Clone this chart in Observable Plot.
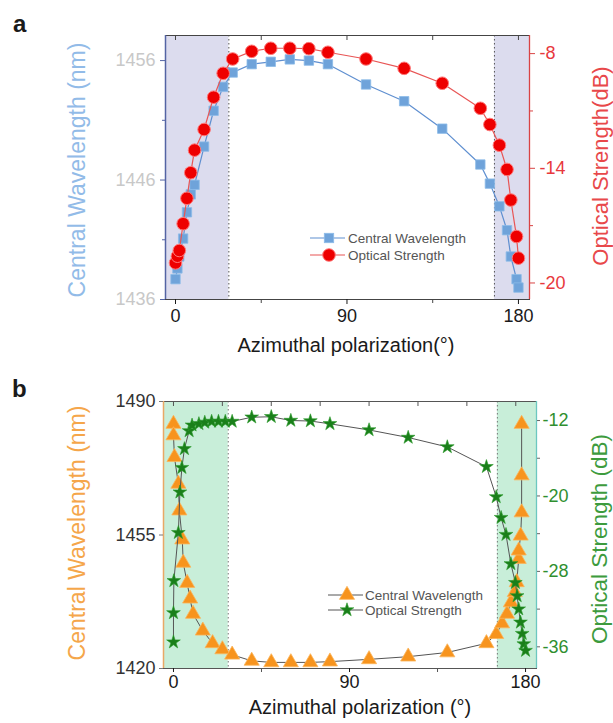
<!DOCTYPE html>
<html><head><meta charset="utf-8">
<script src="https://cdn.jsdelivr.net/npm/d3@7"></script>
<script src="https://cdn.jsdelivr.net/npm/@observablehq/plot@0.6"></script>
<style>
body{margin:0;background:#fff;font-family:"Liberation Sans",Arial,sans-serif;}
#wrap{position:relative;width:613px;height:723px;overflow:hidden;background:#fff}
.panel{position:absolute;left:0}
#overlay{position:absolute;left:0;top:0;pointer-events:none}
</style></head><body><div id="wrap"></div>
<script>
// ---------- Panel a data ----------
const aAngle      = [0, 1, 2, 4, 6, 8, 10, 15, 20, 25, 30, 40, 50, 60, 70, 80, 100, 120, 140, 160, 165, 170, 174, 176, 179, 180];
const aWavelength = [1437.7, 1438.6, 1439.6, 1441.1, 1443.3, 1444.8, 1445.6, 1448.8, 1451.8, 1453.8, 1455.0, 1455.7, 1455.9, 1456.1, 1456.0, 1455.7, 1454.0, 1452.6, 1450.3, 1447.3, 1445.7, 1443.8, 1441.8, 1439.6, 1437.7, 1437.0];
const aStrength   = [-18.95, -18.6, -18.3, -16.9, -15.57, -14.23, -13.05, -11.97, -10.28, -9.03, -8.28, -7.88, -7.72, -7.72, -7.74, -7.93, -8.28, -8.77, -9.55, -10.86, -11.71, -12.79, -14.06, -15.66, -17.57, -18.7];
const aXTicks = [0, 90, 180];
const aXMinor = [45, 135];
const aTopTicks = [0, 45, 90, 135, 180];
const aLeftTicks = [1436, 1446, 1456];
const aLeftMinor = [1441, 1451];
const aRightTicks = [-20, -14, -8];
const aRightMinor = [-17, -11];
const aEdges = [28, 167.4];

// ---------- Panel b data ----------
const bWlAngle = [0, 0, 0.5, 2.5, 3, 4.5, 5, 7, 8.5, 10, 15, 20, 25, 30, 40, 50, 60, 70, 80, 100, 120, 140, 160, 165, 168, 170.5, 172.5, 174.5, 175.5, 176.5, 176.5, 177.5, 178, 178, 178];
const bWavelength = [1484.1, 1481.1, 1475.4, 1468.4, 1461.4, 1453.8, 1447.7, 1442.4, 1438.3, 1434.3, 1429.9, 1426.6, 1425.0, 1423.6, 1422.0, 1421.6, 1421.6, 1421.6, 1421.8, 1422.4, 1423.1, 1424.2, 1426.6, 1429.0, 1431.8, 1434.3, 1437.3, 1440.0, 1442.6, 1448.7, 1450.9, 1454.8, 1460.9, 1470.6, 1484.1];
const bStAngle = [0, 0, 0.2, 2.5, 3.3, 4.3, 5.6, 8, 9.5, 13, 16, 19.5, 23, 26.5, 30, 40, 50, 60, 70, 80, 100, 120, 140, 160, 165, 167.5, 170, 172.5, 174.8, 175.7, 176.5, 177.4, 178.3, 179.1, 180];
const bStrength = [-35.5, -32.4, -29.0, -23.9, -19.6, -17.0, -15.0, -13.1, -12.5, -12.35, -12.2, -12.1, -12.1, -12.1, -12.1, -11.65, -11.6, -12.0, -12.05, -12.35, -13.0, -13.8, -14.8, -16.9, -20.1, -22.3, -24.1, -27.2, -29.2, -30.6, -32.0, -33.4, -34.6, -35.7, -36.4];
const bXTicks = [0, 90, 180];
const bXMinor = [45, 135];
const bTopTicks = [0, 25, 50, 75, 100, 125, 150, 175];
const bLeftTicks = [1420, 1455, 1490];
const bRightTicks = [-36, -28, -20, -12];
const bRightMinor = [-32, -24, -16];
const bEdges = [28, 165.6];

// ---------- scales ----------
const aX = [-5.25, 185.8], aY = [1436, 1458.1];
const bX = [-5.1, 185.6], bY = [1420, 1490];
const toLeftA = v => 1456.583 + (8 + v) * 1.6;
const fromLeftA = y => (y - 1456.583) / 1.6 - 8;
const toLeftB = v => 1485.01 + (12 + v) * 2.472;
const fromLeftB = y => (y - 1485.01) / 2.472 - 12;

const FONT = '"Liberation Sans", Arial, sans-serif';
const wrap = document.getElementById("wrap");

function place(svg, top) {
  const d = document.createElement("div");
  d.className = "panel"; d.style.top = top + "px";
  d.appendChild(svg); wrap.appendChild(d);
}

const aIdx = d3.range(aAngle.length);
const pa = Plot.plot({
  width: 613, height: 365, marginLeft: 165, marginRight: 84, marginTop: 35, marginBottom: 66,
  x: {domain: aX}, y: {domain: aY},
  style: {fontFamily: FONT, background: "transparent", overflow: "visible"},
  marks: [
    Plot.rect([[aX[0], aEdges[0]], [aEdges[1], aX[1]]], {x1: d => d[0], x2: d => d[1], fill: "#dcdcee"}),
    Plot.ruleX(aEdges, {stroke: "#555", strokeDasharray: "1.5,2.5"}),
    Plot.frame({stroke: "#444"}),
    Plot.ruleX([aX[0]], {stroke: "#5464a4", strokeWidth: 1.5}),
    Plot.ruleX([aX[1]], {stroke: "#d94444", strokeWidth: 1.3}),
    Plot.axisX(aXTicks, {anchor: "bottom", tickSize: 5, tickPadding: 5, fontSize: 18, color: "#1a1a1a", label: null}),
    Plot.axisX(aXMinor, {anchor: "bottom", tickSize: 4, tickFormat: () => "", label: null, color: "#444"}),
    Plot.axisX(aTopTicks, {anchor: "top", tickSize: -4, tickFormat: () => "", label: null, color: "#444"}),
    Plot.axisY(aLeftTicks, {anchor: "left", tickSize: 5, tickPadding: 5, fontSize: 18, stroke: "#5464a4", fill: "#c8c8c8", tickFormat: d => String(d), label: null}),
    Plot.axisY(aLeftMinor, {anchor: "left", tickSize: 3, stroke: "#5464a4", tickFormat: () => "", label: null}),
    Plot.axisY(aRightTicks.map(toLeftA), {anchor: "right", tickSize: 5, tickPadding: 5, fontSize: 18, stroke: "#d94444", fill: "#e8383d", tickFormat: d => String(Math.round(fromLeftA(d))), label: null}),
    Plot.axisY(aRightMinor.map(toLeftA), {anchor: "right", tickSize: 3, stroke: "#d94444", tickFormat: () => "", label: null}),
    Plot.line(aIdx, {x: i => aAngle[i], y: i => aWavelength[i], stroke: "#5f8fd0", strokeWidth: 1.2}),
    Plot.dot(aIdx, {x: i => aAngle[i], y: i => aWavelength[i], symbol: "square", r: 5.3, fill: "#6fa3da", stroke: "#8cbbe8", strokeWidth: 0.8}),
    Plot.line(aIdx, {x: i => aAngle[i], y: i => toLeftA(aStrength[i]), stroke: "#e85555", strokeWidth: 1.2}),
    Plot.dot(aIdx, {x: i => aAngle[i], y: i => toLeftA(aStrength[i]), symbol: "circle", r: 6.3, fill: "#ee0000", stroke: "#ff7a7a", strokeWidth: 1})
  ]
});
place(pa, 0);

const bWIdx = d3.range(bWlAngle.length);
const bSIdx = d3.range(bStAngle.length);
const pb = Plot.plot({
  width: 613, height: 358, marginLeft: 163, marginRight: 77, marginTop: 36, marginBottom: 55,
  x: {domain: bX}, y: {domain: bY},
  style: {fontFamily: FONT, background: "transparent", overflow: "visible"},
  marks: [
    Plot.rect([[bX[0], bEdges[0]], [bEdges[1], bX[1]]], {x1: d => d[0], x2: d => d[1], fill: "#c8eed9"}),
    Plot.ruleX(bEdges, {stroke: "#777", strokeDasharray: "1.5,2.5"}),
    Plot.frame({stroke: "#555"}),
    Plot.ruleX([bX[0]], {stroke: "#e9a866", strokeWidth: 1.5}),
    Plot.ruleX([bX[1]], {stroke: "#6cc7c0", strokeWidth: 1.3}),
    Plot.axisX(bXTicks, {anchor: "bottom", tickSize: 4, tickPadding: 3, fontSize: 18, color: "#1a1a1a", label: null}),
    Plot.axisX(bXMinor, {anchor: "bottom", tickSize: 4, tickFormat: () => "", label: null, color: "#555"}),
    Plot.axisX(bTopTicks, {anchor: "top", tickSize: -4, tickFormat: () => "", label: null, color: "#555"}),
    Plot.axisY(bLeftTicks, {anchor: "left", tickSize: 4, tickPadding: 4, fontSize: 18, stroke: "#777", fill: "#333", tickFormat: d => String(d), label: null}),
    Plot.axisY(bRightTicks.map(toLeftB), {anchor: "right", tickSize: 3, tickPadding: 3, fontSize: 18, stroke: "#666", fill: "#2f8f2f", tickFormat: d => String(Math.round(fromLeftB(d))), label: null}),
    Plot.axisY(bRightMinor.map(toLeftB), {anchor: "right", tickSize: 3, stroke: "#666", tickFormat: () => "", label: null}),
    Plot.line(bWIdx, {x: i => bWlAngle[i], y: i => bWavelength[i], stroke: "#555", strokeWidth: 1}),
    Plot.dot(bWIdx, {x: i => bWlAngle[i], y: i => bWavelength[i], symbol: "triangle", r: 5.6, fill: "#f7941e", stroke: "#fbb55a", strokeWidth: 0.8}),
    Plot.line(bSIdx, {x: i => bStAngle[i], y: i => toLeftB(bStrength[i]), stroke: "#555", strokeWidth: 1}),
    Plot.dot(bSIdx, {x: i => bStAngle[i], y: i => toLeftB(bStrength[i]), symbol: "star", r: 4.3, fill: "#1a7f1a", stroke: "#2a9a2a", strokeWidth: 0.6})
  ]
});
place(pb, 365);

// ---------- overlay: panel letters, axis titles, legends ----------
const NS = "http://www.w3.org/2000/svg";
const ov = document.createElementNS(NS, "svg");
ov.setAttribute("id", "overlay"); ov.setAttribute("width", 613); ov.setAttribute("height", 723);
ov.style.fontFamily = FONT;
wrap.appendChild(ov);
function txt(s, x, y, o = {}) {
  const t = document.createElementNS(NS, "text");
  t.textContent = s;
  t.setAttribute("x", x); t.setAttribute("y", y);
  t.setAttribute("font-size", o.size || 16);
  t.setAttribute("fill", o.fill || "#1a1a1a");
  if (o.weight) t.setAttribute("font-weight", o.weight);
  t.setAttribute("text-anchor", o.anchor || "start");
  if (o.central) t.setAttribute("dominant-baseline", "central");
  if (o.rotate) t.setAttribute("transform", `rotate(${o.rotate} ${x} ${y})`);
  ov.appendChild(t);
}
function el(name, attrs) {
  const e = document.createElementNS(NS, name);
  for (const k in attrs) e.setAttribute(k, attrs[k]);
  ov.appendChild(e);
}
txt("a", 13, 32, {size: 24, weight: "bold"});
txt("b", 12, 397, {size: 24, weight: "bold"});
txt("Central Wavelength (nm)", 77, 170, {size: 23, fill: "#92bbe8", anchor: "middle", central: true, rotate: -90});
txt("Optical Strength(dB)", 600, 166, {size: 22, fill: "#e8484a", anchor: "middle", central: true, rotate: -90});
txt("Azimuthal polarization(°)", 346, 345, {size: 20, anchor: "middle", central: true});
txt("Central Wavelength (nm)", 77, 533, {size: 23, fill: "#f5a64a", anchor: "middle", central: true, rotate: -90});
txt("Optical Strength (dB)", 599, 539, {size: 22.5, fill: "#3d9b3d", anchor: "middle", central: true, rotate: -90});
txt("Azimuthal polarization (°)", 360, 707, {size: 20, anchor: "middle", central: true});

// legend a
el("line", {x1: 310, x2: 345, y1: 238, y2: 238, stroke: "#5f8fd0", "stroke-width": 1.2});
el("rect", {x: 324.3, y: 233.3, width: 9.4, height: 9.4, fill: "#6fa3da", stroke: "#8cbbe8", "stroke-width": 0.8});
txt("Central Wavelength", 348, 238, {size: 13.5, fill: "#555", central: true});
el("line", {x1: 310, x2: 345, y1: 255, y2: 255, stroke: "#e85555", "stroke-width": 1.2});
el("circle", {cx: 329, cy: 255, r: 6.3, fill: "#ee0000", stroke: "#ff7a7a", "stroke-width": 1});
txt("Optical Strength", 348, 255, {size: 13.5, fill: "#555", central: true});

// legend b
el("line", {x1: 328, x2: 363, y1: 595, y2: 595, stroke: "#555", "stroke-width": 1});
el("path", {d: d3.symbol(d3.symbolTriangle, Math.PI * 5.6 * 5.6)(), transform: "translate(347,595)", fill: "#f7941e", stroke: "#fbb55a", "stroke-width": 0.8});
txt("Central Wavelength", 365, 595, {size: 13.5, fill: "#555", central: true});
el("line", {x1: 328, x2: 363, y1: 610, y2: 610, stroke: "#555", "stroke-width": 1});
el("path", {d: d3.symbol(d3.symbolStar, Math.PI * 4.3 * 4.3)(), transform: "translate(347,610)", fill: "#1a7f1a", stroke: "#2a9a2a", "stroke-width": 0.6});
txt("Optical Strength", 365, 610, {size: 13.5, fill: "#555", central: true});
</script></body></html>
